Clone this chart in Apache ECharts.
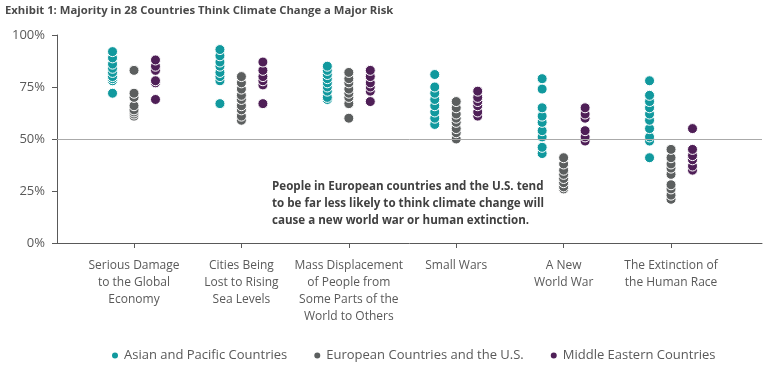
<!DOCTYPE html>
<html><head><meta charset="utf-8">
<script src="https://cdn.jsdelivr.net/npm/echarts@6/dist/echarts.min.js"></script>
<style>html,body{margin:0;padding:0;background:#fff}#c{width:782px;height:372px}</style>
</head><body><div id="c"></div>
<script>
const categories = [
  "Serious Damage\nto the Global\nEconomy",
  "Cities Being\nLost to Rising\nSea Levels",
  "Mass Displacement\nof People from\nSome Parts of the\nWorld to Others",
  "Small Wars",
  "A New\nWorld War",
  "The Extinction of\nthe Human Race"
];
const seriesNames = ["Asian and Pacific Countries", "European Countries and the U.S.", "Middle Eastern Countries"];
const asian = [
  [92, 89, 86, 84, 82, 80, 79, 78, 72],
  [93, 90, 87, 85, 82, 80, 78, 67],
  [85, 83, 81, 79, 77, 75, 73, 70, 69],
  [81, 75, 72, 69, 66, 63, 60, 57],
  [79, 74, 65, 61, 58, 54, 51, 46, 43],
  [78, 71, 68, 65, 62, 59, 55, 51, 49, 41]
];
const europe = [
  [83, 72, 70, 66, 64, 63, 62, 61],
  [80, 77, 74, 71, 69, 66, 64, 61, 59],
  [82, 79, 77, 74, 72, 70, 67, 60],
  [68, 65, 62, 60, 58, 55, 53, 50],
  [41, 38, 35, 33, 31, 29, 27, 26],
  [45, 41, 38, 36, 33, 28, 26, 23, 21]
];
const middleEast = [
  [88, 85, 83, 78, 77, 69],
  [87, 83, 80, 78, 76, 67],
  [83, 80, 77, 75, 73, 68],
  [73, 70, 68, 66, 63, 61],
  [65, 62, 60, 54, 51, 49],
  [55, 45, 42, 40, 37, 35]
];
const yTicks = [0, 25, 50, 75, 100];
const annotation = "People in European countries and the U.S. tend\nto be far less likely to think climate change will\ncause a new world war or human extinction.";
const title = "Exhibit 1: Majority in 28 Countries Think Climate Change a Major Risk";

const colors = ["#11999e", "#5c5f5f", "#4f1f57"];
const offsets = [-0.2, 0, 0.2];
function build(groups, k) {
  const out = [];
  groups.forEach((vals, i) => {
    vals.slice().sort((a, b) => a - b).forEach(v => out.push([i + offsets[k], v]));
  });
  return out;
}
const font = "'Open Sans', sans-serif";
const chart = echarts.init(document.getElementById('c'), null, {renderer: 'canvas'});
chart.setOption({
  animation: false,
  title: {text: title, left: 0, top: 0, textStyle: {fontFamily: font, fontSize: 11.3, fontWeight: 'bold', color: '#4a4a4a'}},
  legend: {
    left: 105, top: 344, icon: 'circle', itemWidth: 8, itemHeight: 8, itemGap: 25,
    textStyle: {fontFamily: font, fontSize: 13, color: '#595959'},
    data: seriesNames
  },
  grid: {left: 57, right: 20, top: 35, bottom: 129},
  xAxis: {
    type: 'value', min: -0.717, max: 5.847,
    axisLine: {onZero: false, lineStyle: {color: '#595959'}},
    axisTick: {show: true, customValues: [0,1,2,3,4,5], length: 5, lineStyle: {color: '#595959'}},
    splitLine: {show: false},
    axisLabel: {
      customValues: [0,1,2,3,4,5],
      formatter: v => categories[Math.round(v)],
      fontFamily: font, fontSize: 12, color: '#595959', lineHeight: 17, margin: 14, verticalAlign: 'top'
    }
  },
  yAxis: {
    type: 'value', min: 0, max: 100, interval: 25,
    axisLine: {show: true, onZero: false, lineStyle: {color: '#595959'}},
    axisTick: {show: true, length: 5, lineStyle: {color: '#595959'}},
    splitLine: {show: false},
    axisLabel: {formatter: v => v + '%', fontFamily: font, fontSize: 13, color: '#595959', margin: 12}
  },
  graphic: [{
    type: 'text', left: 272, top: 178,
    style: {text: annotation, font: "bold 11.6px 'Open Sans', sans-serif", fill: '#404040', lineHeight: 17}
  }],
  series: [asian, europe, middleEast].map((g, k) => ({
    name: seriesNames[k], type: 'scatter', data: build(g, k), symbolSize: 10,
    itemStyle: {color: colors[k], borderColor: '#fff', borderWidth: 1, opacity: 1},
    markLine: k === 0 ? {silent: true, symbol: 'none', label: {show: false},
      lineStyle: {color: '#aaaaaa', width: 1, type: 'solid'}, data: [{yAxis: 50}]} : undefined
  }))
});
</script></body></html>
